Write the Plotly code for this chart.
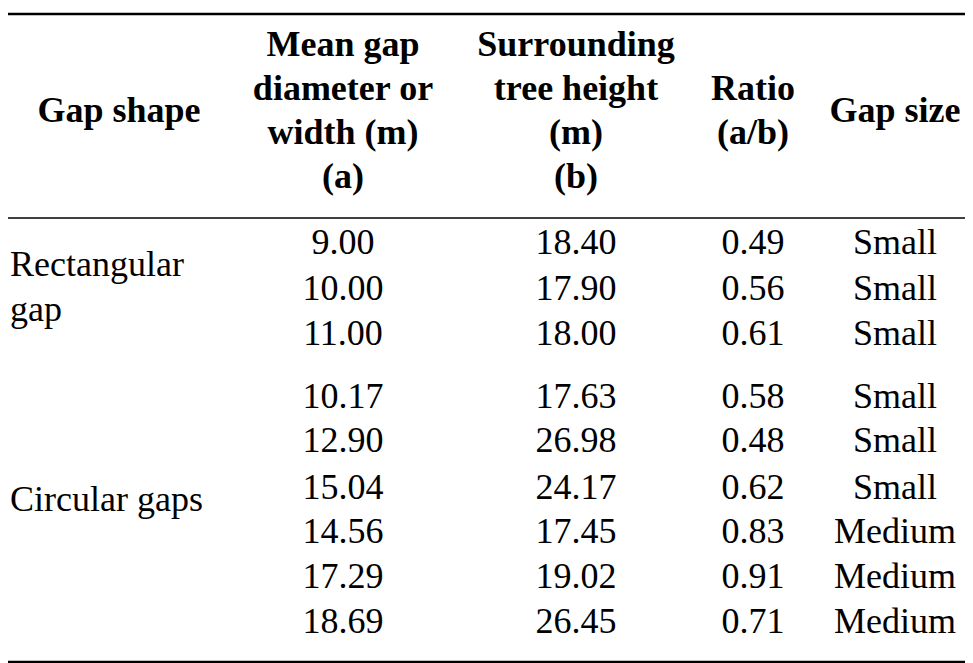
import plotly.graph_objects as go

# table data
header_lines = [
    ["Gap shape"],
    ["Mean gap", "diameter or", "width (m)", "(a)"],
    ["Surrounding", "tree height", "(m)", "(b)"],
    ["Ratio", "(a/b)"],
    ["Gap size"],
]
diameter = ["9.00", "10.00", "11.00", "10.17", "12.90", "15.04", "14.56", "17.29", "18.69"]
height = ["18.40", "17.90", "18.00", "17.63", "26.98", "24.17", "17.45", "19.02", "26.45"]
ratio = ["0.49", "0.56", "0.61", "0.58", "0.48", "0.62", "0.83", "0.91", "0.71"]
gap_size = ["Small", "Small", "Small", "Small", "Small", "Small", "Medium", "Medium", "Medium"]
shape_labels = ["Rectangular", "gap", "Circular gaps"]

W, H = 973, 663
col_x = [111, 335, 568, 745, 887]
shift = -6
row_y = [y + shift for y in [243, 289, 334, 397, 441, 488, 532, 577, 622]]
label_y = [y + shift for y in [265, 310, 500]]
line_gap = 44
font = "Liberation Serif, Times New Roman, serif"

fig = go.Figure()

# header
for cx, lines in zip(col_x, header_lines):
    n = len(lines)
    y0 = 111 + shift - (n - 1) * line_gap / 2
    fig.add_trace(go.Scatter(
        x=[cx] * n, y=[y0 + i * line_gap for i in range(n)],
        text=["<b>%s</b>" % t for t in lines], mode="text",
        textfont=dict(family=font, size=36, color="black"),
        hoverinfo="skip", showlegend=False))

# body columns
for cx, vals in zip(col_x[1:], [diameter, height, ratio, gap_size]):
    fig.add_trace(go.Scatter(
        x=[cx] * len(vals), y=row_y, text=vals, mode="text",
        textfont=dict(family=font, size=36, color="black"),
        hoverinfo="skip", showlegend=False))

fig.add_trace(go.Scatter(
    x=[2] * len(shape_labels), y=label_y, text=shape_labels, mode="text",
    textposition="middle right",
    textfont=dict(family=font, size=36, color="black"),
    hoverinfo="skip", showlegend=False))

# rules
for y, w in [(6, 2.5), (210, 1.5), (654, 2.5)]:
    fig.add_shape(type="line", x0=0, x1=W, y0=y, y1=y, xref="x", yref="y",
                  line=dict(color="black", width=w))

fig.update_layout(
    width=W, height=H, margin=dict(l=0, r=0, t=0, b=0),
    plot_bgcolor="white", paper_bgcolor="white",
    xaxis=dict(range=[0, W], visible=False, fixedrange=True),
    yaxis=dict(range=[H, 0], visible=False, fixedrange=True),
)

fig.write_html("out.html")
